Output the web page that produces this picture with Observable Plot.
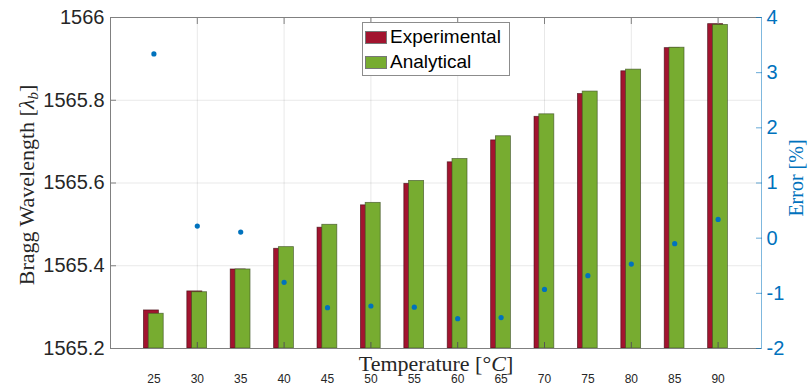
<!DOCTYPE html>
<html><head><meta charset="utf-8">
<script src="https://cdn.jsdelivr.net/npm/d3@7"></script>
<script src="https://cdn.jsdelivr.net/npm/@observablehq/plot@0.6"></script>
<style>
body{margin:0;background:#fff;}
#wrap{position:relative;width:808px;height:388px;}
#legend{position:absolute;left:362px;top:22px;width:146px;height:52px;border:1px solid #8c8c8c;background:#fff;font-family:'Liberation Sans',Arial,sans-serif;font-size:19px;color:#000;}
.row{position:absolute;left:2px;height:20px;display:flex;align-items:center;white-space:nowrap;}
.sw{width:22px;height:13px;margin-right:3px;box-sizing:border-box;border:1px solid #777;}
</style></head>
<body><div id="wrap"><div id="legend"></div></div>
<script>
const temps = [25,30,35,40,45,50,55,60,65,70,75,80,85,90];
const experimental = [1565.292,1565.338,1565.391,1565.441,1565.492,1565.546,1565.598,1565.650,1565.703,1565.760,1565.815,1565.870,1565.926,1565.984];
const analytical = [1565.284,1565.336,1565.391,1565.445,1565.499,1565.552,1565.605,1565.658,1565.713,1565.766,1565.821,1565.874,1565.927,1565.982];
const errorPct = [3.34,0.22,0.11,-0.80,-1.26,-1.23,-1.25,-1.46,-1.44,-0.93,-0.68,-0.47,-0.10,0.34];
const series = ["Experimental","Analytical"];
const seriesColors = ["#A2142F","#77AC30"];
const yTicks = [1565.2,1565.4,1565.6,1565.8,1566];
const errTicks = [-2,-1,0,1,2,3,4];
const xGridTicks = [30,40,50,60,70,80,90];

const rows = temps.map((t,i)=>({t, exp: experimental[i], ana: analytical[i], err: errorPct[i]}));
const yDom = [yTicks[0], yTicks[yTicks.length-1]];
const errToY = d3.scaleLinear([errTicks[0], errTicks[errTicks.length-1]], yDom);
const xDom = [20, 95];
const blue = "#0072BD";
const axisGray = "#808080";
const serif = "'Liberation Serif', 'Times New Roman', serif";

const chart = Plot.plot({
  width: 808, height: 388,
  marginLeft: 110, marginRight: 47, marginTop: 17, marginBottom: 40,
  style: {fontFamily: "'Liberation Sans', Arial, sans-serif", fontSize: "19px", color: "#262626", background: "#fff"},
  x: {type: "linear", domain: xDom},
  y: {domain: yDom},
  marks: [
    Plot.gridY(yTicks.slice(1, -1), {stroke: "#000", strokeOpacity: 0.09}),
    Plot.gridX(xGridTicks, {stroke: "#000", strokeOpacity: 0.09}),
    Plot.rect(rows, {x1: d => d.t - 1.15, x2: d => d.t + 0.58, y1: yDom[0], y2: "exp", fill: seriesColors[0], stroke: "#3a0810", strokeOpacity: 0.7, strokeWidth: 0.8}),
    Plot.rect(rows, {x1: d => d.t - 0.6, x2: d => d.t + 1.13, y1: yDom[0], y2: "ana", fill: seriesColors[1], stroke: "#3d4f25", strokeOpacity: 0.75, strokeWidth: 0.8}),
    Plot.dot(rows, {x: "t", y: d => errToY(d.err), r: 2.6, fill: blue, stroke: null}),
    Plot.ruleY([yDom[0], yDom[1]], {stroke: axisGray}),
    Plot.ruleX([xDom[0]], {stroke: axisGray}),
    Plot.ruleX([xDom[1]], {stroke: blue, strokeOpacity: 0.5}),
    // left axis
    Plot.axisY({anchor: "left", ticks: yTicks, tickSize: 0, tickPadding: 6, tickFormat: d => String(+d.toFixed(1)), fontSize: 20, fill: "#262626", label: null}),
    Plot.axisY({anchor: "left", ticks: yTicks, tickSize: -6, stroke: axisGray, fill: "none", label: null}),
    // right error axis
    Plot.axisY({anchor: "right", ticks: errTicks.map(e => errToY(e)), tickSize: 0, tickPadding: 5, tickFormat: v => String(Math.round(errToY.invert(v))), fontSize: 20, fill: blue, label: null}),
    Plot.axisY({anchor: "right", ticks: errTicks.map(e => errToY(e)), tickSize: -6, stroke: blue, strokeOpacity: 0.6, fill: "none", label: null}),
    // x axis
    Plot.axisX({anchor: "bottom", ticks: temps, tickSize: 0, tickPadding: 26, tickFormat: d => String(d), fontSize: 12, fill: "#262626", label: null}),
    Plot.axisX({anchor: "bottom", ticks: xGridTicks, tickSize: -6, stroke: "#555", fill: "none", label: null}),
    Plot.axisX({anchor: "top", ticks: xGridTicks, tickSize: -6, stroke: axisGray, fill: "none", label: null}),
    // axis titles
    Plot.text(["Temperature [°C]"], {frameAnchor: "bottom", textAnchor: "middle", lineAnchor: "bottom", dy: 22, fontFamily: serif, fontSize: 22, fill: "#262626"}),
    Plot.text(["Bragg Wavelength [λb]"], {frameAnchor: "left", textAnchor: "middle", lineAnchor: "middle", dx: -84, dy: 2, rotate: -90, fontFamily: serif, fontSize: 22, fill: "#262626"}),
    Plot.text(["Error [%]"], {frameAnchor: "right", textAnchor: "middle", lineAnchor: "middle", dx: 35, dy: -5, rotate: -90, fontFamily: serif, fontSize: 20, fill: blue})
  ]
});

document.getElementById("wrap").insertBefore(chart, document.getElementById("legend"));

// rich text in axis titles
d3.select(chart).selectAll("text").each(function() {
  const el = d3.select(this);
  const txt = this.textContent;
  if (txt === "Bragg Wavelength [λb]") {
    el.text(null);
    el.append("tspan").text("Bragg Wavelength [");
    el.append("tspan").attr("font-style", "italic").text("λ");
    el.append("tspan").attr("font-style", "italic").attr("font-size", 15).attr("dy", 4).text("b");
    el.append("tspan").attr("dy", -4).text("]");
  } else if (txt === "Temperature [°C]") {
    el.text(null);
    el.append("tspan").text("Temperature [°");
    el.append("tspan").attr("font-style", "italic").text("C");
    el.append("tspan").text("]");
  }
});

// legend
const legend = d3.select("#legend");
series.forEach((s, i) => {
  const row = legend.append("div").attr("class", "row").style("top", (i === 0 ? 4 : 29) + "px");
  row.append("div").attr("class", "sw").style("background", seriesColors[i]);
  row.append("span").text(s);
});
</script>
</body></html>
